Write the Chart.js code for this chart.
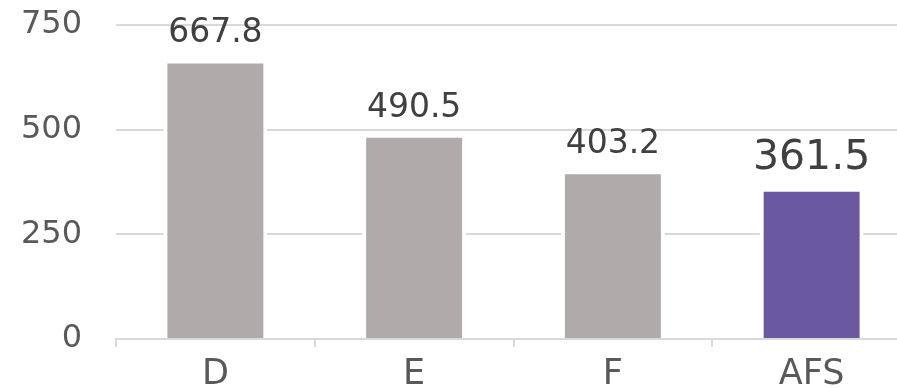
<!DOCTYPE html>
<html><head><meta charset="utf-8">
<script src="https://cdn.jsdelivr.net/npm/chart.js@4/dist/chart.umd.min.js"></script>
<style>html,body{margin:0;padding:0;overflow:hidden;background:#fff;}#wrap{width:911px;height:388px;}</style>
</head><body><div id="wrap"><canvas id="c" width="911" height="388"></canvas></div>
<script>
const categories = ["D", "E", "F", "AFS"];
const values = [667.8, 490.5, 403.2, 361.5];
const barColors = ["#AFABAB", "#AFABAB", "#AFABAB", "#6A58A3"];
const labelSizes = [33, 33, 33, 41];
const yTicks = [0, 250, 500, 750];

const FONT = "'DejaVu Sans', sans-serif";

const valueLabels = {
  id: 'valueLabels',
  afterDatasetsDraw(chart) {
    const ctx = chart.ctx;
    const meta = chart.getDatasetMeta(0);
    ctx.save();
    ctx.textAlign = 'center';
    ctx.textBaseline = 'alphabetic';
    ctx.fillStyle = '#404040';
    meta.data.forEach((bar, i) => {
      ctx.font = labelSizes[i] + 'px ' + FONT;
      const off = i === 3 ? 19 : 17;
      ctx.fillText(values[i].toFixed(1), bar.x, bar.y - off);
    });
    ctx.restore();
  }
};

new Chart(document.getElementById('c'), {
  type: 'bar',
  data: {
    labels: categories,
    datasets: [{
      data: values,
      backgroundColor: barColors,
      borderColor: '#ffffff',
      borderWidth: 4,
      borderSkipped: 'start',
      categoryPercentage: 1,
      barPercentage: 0.523
    }]
  },
  options: {
    responsive: false,
    animation: false,
    layout: { padding: { top: 25, left: 0, right: 0, bottom: 0 } },
    plugins: { legend: { display: false }, tooltip: { enabled: false } },
    scales: {
      y: {
        min: 0, max: 750,
        afterBuildTicks(scale) { scale.ticks = yTicks.map(v => ({ value: v })); },
        afterFit(scale) { scale.width = 116; scale.paddingTop = 0; scale.paddingBottom = 0; },
        border: { display: false },
        grid: { color: '#D9D9D9', lineWidth: 2, drawTicks: false },
        ticks: { padding: 34, color: '#595959', font: { family: FONT, size: 32 } }
      },
      x: {
        offset: true,
        afterFit(scale) { scale.height = 49; },
        border: { display: true, color: '#D9D9D9', width: 2 },
        grid: { offset: true, drawOnChartArea: false, drawTicks: true, tickLength: 8, color: '#D9D9D9', lineWidth: 2 },
        ticks: { padding: 7, color: '#595959', font: { family: FONT, size: 35 } }
      }
    }
  },
  plugins: [valueLabels]
});
</script>
</body></html>
